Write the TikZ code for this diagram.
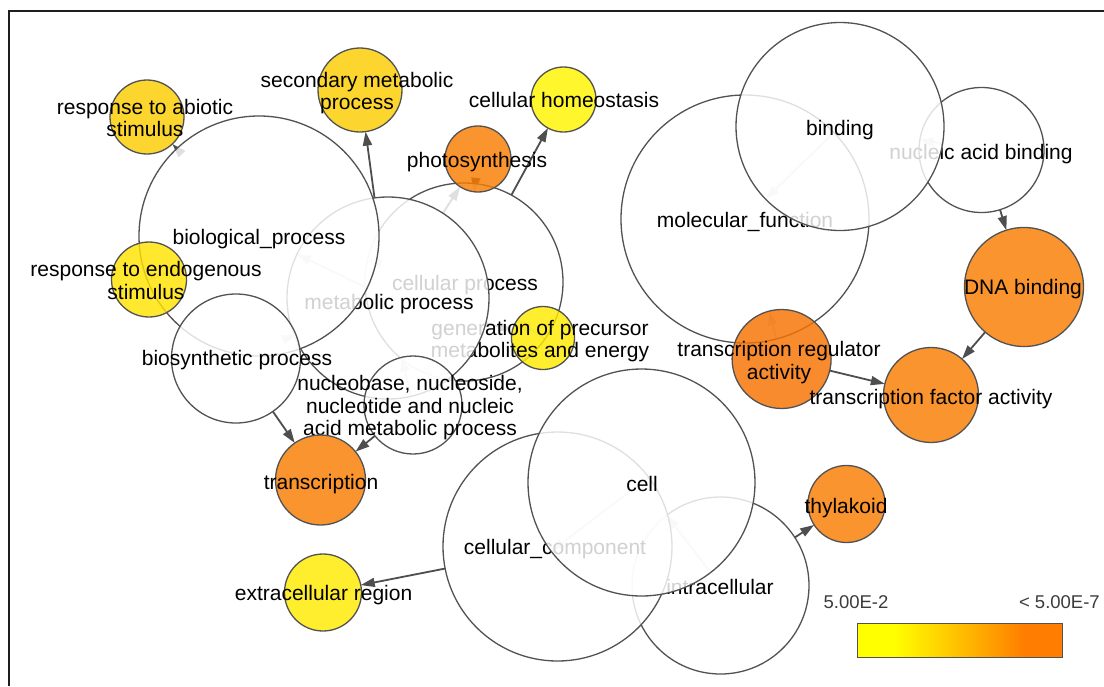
\documentclass[tikz,border=0pt]{standalone}
\usepackage{fontspec}
\setmainfont{Liberation Sans}
\usetikzlibrary{calc,arrows.meta,backgrounds}
\definecolor{golden}{RGB}{252,206,0}
\definecolor{yelA}{RGB}{255,227,0}
\definecolor{yelB}{RGB}{255,235,0}
\definecolor{yelC}{RGB}{255,245,0}
\definecolor{orngA}{RGB}{249,125,0}
\definecolor{orngB}{RGB}{246,114,0}
\definecolor{lineg}{RGB}{82,82,82}
\definecolor{edgeg}{RGB}{78,78,78}
\definecolor{framec}{RGB}{30,30,30}
\definecolor{legtext}{RGB}{60,60,60}
\definecolor{barY}{RGB}{255,255,0}
\definecolor{barO}{RGB}{255,125,0}
\pgfdeclarehorizontalshading{legshade}{100bp}{color(0bp)=(barY); color(34bp)=(barY); color(66bp)=(barO); color(100bp)=(barO)}

\tikzset{
  gocirc/.style={circle, draw=lineg, line width=1.3pt, fill opacity=0.82, inner sep=0pt, outer sep=0pt},
  golabel/.style={align=center, font=\fontsize{21}{22.5}\selectfont, inner sep=0pt, text=black, yshift=-2pt},
  goedge/.style={draw=edgeg, line width=1.8pt, -{Triangle[length=14pt,width=9pt]}},
  legendlabel/.style={font=\fontsize{18.5}{20}\selectfont, text=legtext, inner sep=0pt},
}

% name, cx, cy, radius, colour, label x, label y, label
\newcommand\gonode[8]{%
  \expandafter\def\csname gor#1\endcsname{#4}%
  \node[gocirc, fill=#5, minimum size={2*#4pt}] (#1) at (#2,#3) {};
  \node[golabel] (#1-lbl) at (#6,#7) {#8};
}
\newcommand\goedge[2]{%
  \edef\gors{\csname gor#1\endcsname}\edef\gort{\csname gor#2\endcsname}%
  \draw[goedge] ($(#1.center)!\gors pt!(#2.center)$) -- ($(#2.center)!\gort pt!(#1.center)$);
}

\begin{document}
\begin{tikzpicture}[x=1pt,y=-1pt]
\useasboundingbox (0,0) rectangle (1104,686);

% ---------- biological process ----------
\gonode{cp}{464}{282}{99}{white}{465}{283}{cellular process}
\gonode{gen}{543}{338}{31.5}{yelB}{540}{339}{generation of precursor\\metabolites and energy}
\gonode{photo}{478}{159}{33}{orngA}{477}{160}{photosynthesis}
\gonode{metab}{388}{298}{101}{white}{389}{302}{metabolic process}
\gonode{bio}{259}{236}{120}{white}{259}{237}{biological\_process}
\gonode{endo}{149}{279.5}{37.5}{yelA}{146}{278.5}{response to endogenous\\stimulus}
\gonode{bios}{236}{358.5}{64.5}{white}{237}{358}{biosynthetic process}
\gonode{nuc}{413}{405}{49}{white}{410}{406}{nucleobase, nucleoside,\\nucleotide and nucleic\\acid metabolic process}
\gonode{abiotic}{147}{117}{37}{golden}{145}{116}{response to abiotic\\stimulus}
\gonode{secondary}{360}{90}{42}{golden}{357}{91}{secondary metabolic\\process}
\gonode{homeo}{563.5}{99.5}{32.5}{yelC}{564}{98}{cellular homeostasis}
\gonode{trans}{320.5}{480}{45}{orngA}{321}{482}{transcription}

% ---------- molecular function ----------
\gonode{mf}{745}{219}{124}{white}{745}{220}{molecular\_function}
\gonode{nab}{981.5}{150}{62.5}{white}{981}{152}{nucleic acid binding}
\gonode{binding}{840}{126.5}{104}{white}{840}{128}{binding}
\gonode{tra}{781.6}{359}{49.5}{orngB}{779}{360.5}{transcription regulator\\activity}
\gonode{dna}{1024}{287}{59.5}{orngA}{1023}{287}{DNA binding}
\gonode{tfa}{931}{395}{47.5}{orngA}{931}{397}{transcription factor activity}

% ---------- cellular component ----------
\gonode{intra}{720.5}{585.5}{88.5}{white}{720}{585}{intracellular}
\gonode{cc}{557.5}{546.5}{114.5}{white}{555}{547}{cellular\_component}
\gonode{cell}{641.5}{482.5}{113.5}{white}{642}{482}{cell}
\gonode{ext}{323}{592.5}{38.5}{yelB}{323.6}{593}{extracellular region}
\gonode{thy}{846.5}{504}{38.5}{orngA}{846}{506}{thylakoid}

% ---------- background and edges (under the nodes) ----------
\begin{pgfonlayer}{background}
\fill[white] (0,0) rectangle (1104,686);
\draw[framec, line width=2pt] (9,686) -- (9,10.7) -- (1104,10.7);
\goedge{bio}{abiotic}
\goedge{bio}{endo}
\goedge{bio}{metab}
\goedge{bio}{cp}
\goedge{metab}{secondary}
\goedge{metab}{bios}
\goedge{metab}{nuc}
\goedge{metab}{photo}
\goedge{metab}{gen}
\goedge{cp}{photo}
\goedge{cp}{homeo}
\goedge{cp}{gen}
\goedge{cp}{nuc}
\goedge{bios}{trans}
\goedge{nuc}{trans}
\goedge{mf}{binding}
\goedge{binding}{nab}
\goedge{nab}{dna}
\goedge{mf}{tra}
\goedge{tra}{tfa}
\goedge{dna}{tfa}
\goedge{cc}{cell}
\goedge{cc}{ext}
\goedge{cell}{intra}
\goedge{intra}{thy}
\end{pgfonlayer}

% ---------- legend ----------
\node[legendlabel] (leglow) at (856,602) {5.00E-2};
\node[legendlabel, anchor=east] (leghigh) at (1100,602) {< 5.00E-7};
\node[draw=lineg, line width=1.3pt, shading=legshade, minimum width=205pt, minimum height=34pt, inner sep=0pt, anchor=north west] (legbar) at (856.7,622.7) {};
\end{tikzpicture}
\end{document}
